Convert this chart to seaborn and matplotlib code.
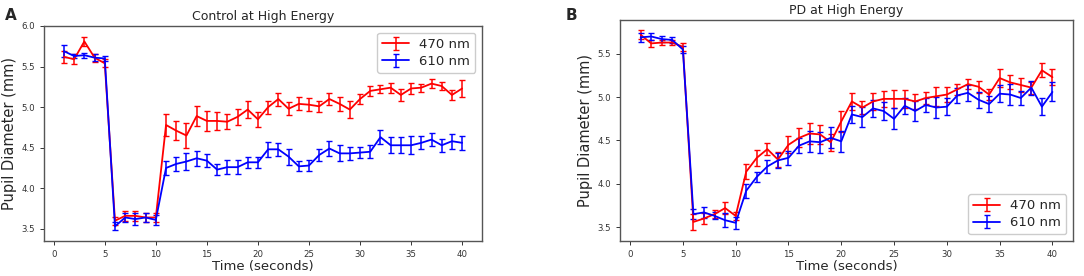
import numpy as np
import pandas as pd
import matplotlib
matplotlib.use("Agg")
import matplotlib.pyplot as plt
import seaborn as sns

# time points (seconds)
time = list(range(1, 41))

# Control at high energy
ctrl_470 = [5.62, 5.59, 5.81, 5.61, 5.54, 3.60, 3.66, 3.66, 3.64, 3.64,
            4.78, 4.71, 4.65, 4.89, 4.83, 4.83, 4.82, 4.88, 4.97, 4.85,
            5.00, 5.10, 4.98, 5.04, 5.03, 5.01, 5.10, 5.04, 4.97, 5.10,
            5.20, 5.22, 5.24, 5.15, 5.23, 5.24, 5.29, 5.26, 5.15, 5.23]
ctrl_470_err = [0.07, 0.06, 0.06, 0.05, 0.05, 0.05, 0.06, 0.06, 0.05, 0.05,
                0.14, 0.12, 0.15, 0.12, 0.12, 0.11, 0.09, 0.10, 0.11, 0.09,
                0.08, 0.08, 0.08, 0.08, 0.08, 0.07, 0.07, 0.09, 0.10, 0.06,
                0.06, 0.05, 0.06, 0.07, 0.07, 0.05, 0.06, 0.05, 0.06, 0.10]
ctrl_610 = [5.69, 5.63, 5.64, 5.61, 5.60, 3.53, 3.64, 3.62, 3.64, 3.61,
            4.25, 4.30, 4.33, 4.37, 4.34, 4.23, 4.26, 4.26, 4.32, 4.32,
            4.48, 4.48, 4.39, 4.27, 4.28, 4.41, 4.49, 4.43, 4.43, 4.44,
            4.45, 4.63, 4.53, 4.53, 4.53, 4.56, 4.60, 4.53, 4.58, 4.56]
ctrl_610_err = [0.07, 0.03, 0.03, 0.04, 0.03, 0.05, 0.06, 0.07, 0.05, 0.06,
                0.09, 0.09, 0.11, 0.09, 0.08, 0.07, 0.09, 0.09, 0.07, 0.07,
                0.09, 0.08, 0.10, 0.06, 0.07, 0.07, 0.09, 0.10, 0.08, 0.07,
                0.08, 0.09, 0.10, 0.10, 0.11, 0.08, 0.08, 0.08, 0.09, 0.09]

# PD at high energy
pd_470 = [5.72, 5.62, 5.63, 5.63, 5.58, 3.56, 3.60, 3.65, 3.72, 3.63,
          4.14, 4.30, 4.40, 4.28, 4.45, 4.53, 4.58, 4.57, 4.48, 4.72,
          4.95, 4.88, 4.95, 4.98, 4.98, 4.98, 4.95, 4.99, 5.01, 5.03,
          5.09, 5.15, 5.12, 5.03, 5.22, 5.17, 5.14, 5.11, 5.31, 5.23]
pd_470_err = [0.05, 0.04, 0.03, 0.03, 0.05, 0.09, 0.06, 0.05, 0.07, 0.05,
              0.09, 0.09, 0.07, 0.09, 0.10, 0.11, 0.12, 0.11, 0.10, 0.12,
              0.10, 0.08, 0.10, 0.09, 0.10, 0.10, 0.09, 0.07, 0.11, 0.09,
              0.06, 0.06, 0.07, 0.06, 0.10, 0.08, 0.08, 0.07, 0.08, 0.09]
pd_610 = [5.69, 5.70, 5.67, 5.66, 5.55, 3.65, 3.67, 3.63, 3.58, 3.55,
          3.92, 4.08, 4.20, 4.27, 4.30, 4.44, 4.49, 4.48, 4.53, 4.49,
          4.80, 4.77, 4.87, 4.84, 4.75, 4.90, 4.84, 4.91, 4.88, 4.89,
          5.02, 5.05, 4.97, 4.92, 5.04, 5.03, 4.99, 5.11, 4.89, 5.06]
pd_610_err = [0.05, 0.04, 0.03, 0.03, 0.04, 0.06, 0.06, 0.04, 0.08, 0.07,
              0.08, 0.06, 0.07, 0.09, 0.08, 0.09, 0.12, 0.12, 0.12, 0.12,
              0.10, 0.12, 0.10, 0.10, 0.12, 0.09, 0.12, 0.08, 0.12, 0.10,
              0.09, 0.09, 0.09, 0.09, 0.10, 0.12, 0.08, 0.08, 0.10, 0.11]

sns.set_style("ticks")
plt.rcParams["font.family"] = ["DejaVu Sans"]

fig = plt.figure(figsize=(10.84, 2.76), dpi=100)
axA = fig.add_axes([0.0406, 0.1268, 0.4041, 0.779])
axB = fig.add_axes([0.572, 0.1268, 0.4179, 0.8007])

panels = [
    (axA, "Control at High Energy", ctrl_470, ctrl_470_err, ctrl_610, ctrl_610_err,
     (3.35, 6.0), [3.5, 4.0, 4.5, 5.0, 5.5, 6.0], "upper right"),
    (axB, "PD at High Energy", pd_470, pd_470_err, pd_610, pd_610_err,
     (3.34, 5.89), [3.5, 4.0, 4.5, 5.0, 5.5], "lower right"),
]

for ax, title, r, re, b, be, ylim, yticks, loc in panels:
    ax.errorbar(time, r, yerr=re, color="#ff0000", lw=1.3, elinewidth=1.1,
                capsize=2, label="470 nm")
    ax.errorbar(time, b, yerr=be, color="#0000ff", lw=1.3, elinewidth=1.1,
                capsize=2, label="610 nm")
    ax.set_xlim(-0.95, 41.95)
    ax.set_ylim(*ylim)
    ax.set_xticks([0, 5, 10, 15, 20, 25, 30, 35, 40])
    ax.set_yticks(yticks)
    ax.tick_params(labelsize=6.2, length=3, width=0.7, colors="#333333")
    for s in ax.spines.values():
        s.set_color("#555555")
        s.set_linewidth(1.0)
    ax.set_title(title, fontsize=9, pad=4)
    ax.set_xlabel("Time (seconds)", fontsize=9.5, labelpad=1)
    ax.set_ylabel("Pupil Diameter (mm)", fontsize=10.5, labelpad=3)
    ax.legend(loc=loc, fontsize=9.5, handlelength=2.0, borderpad=0.4,
              labelspacing=0.3, framealpha=1, edgecolor="#cccccc")

fig.text(0.005, 0.97, "A", fontsize=11, fontweight="bold", va="top")
fig.text(0.522, 0.97, "B", fontsize=11, fontweight="bold", va="top")

fig.savefig("out.png", dpi=100)
